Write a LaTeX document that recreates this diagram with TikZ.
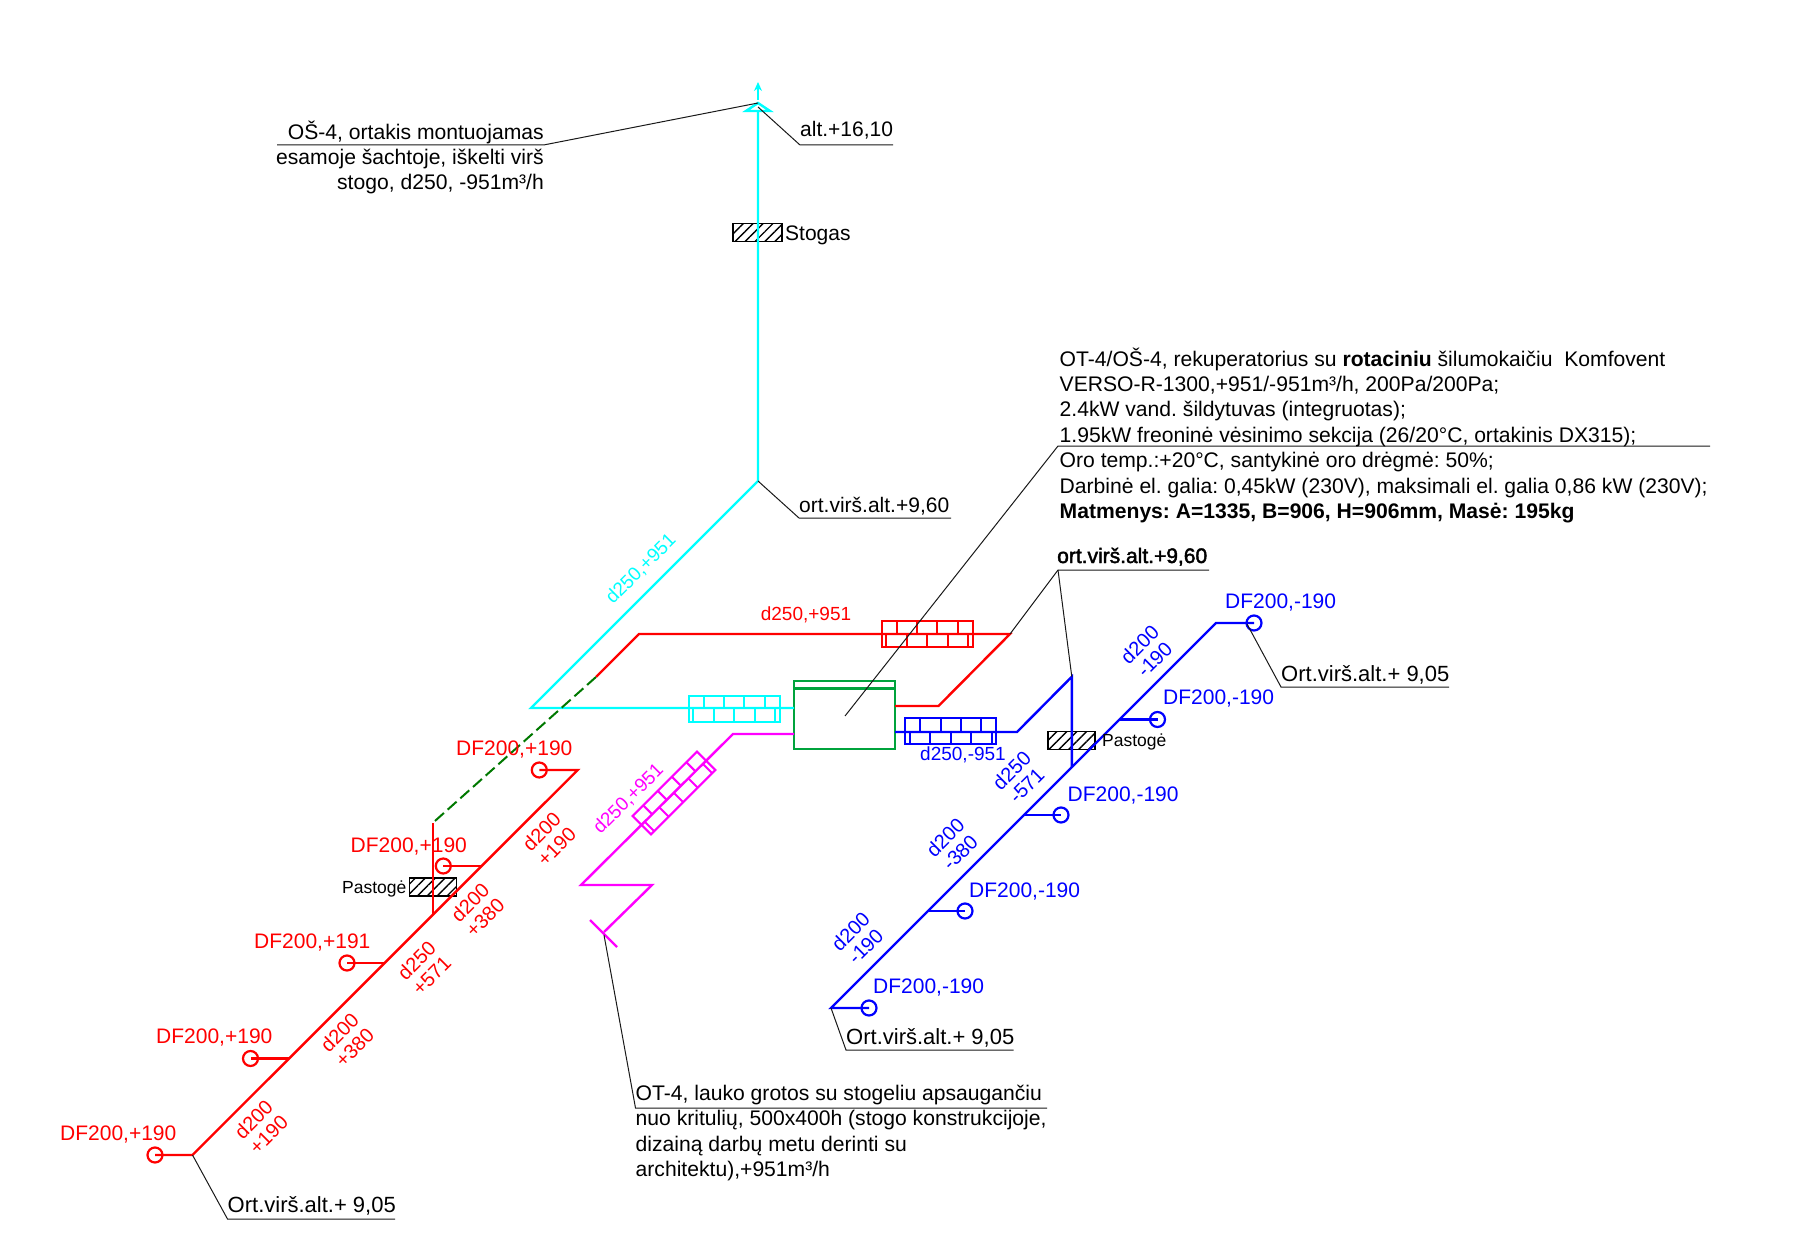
\documentclass[tikz,border=0pt]{standalone}
\usepackage{fontspec}
\setmainfont{Liberation Sans}
\newfontfamily\fakebold[FakeBold=2]{Liberation Sans}
\usetikzlibrary{patterns.meta, arrows.meta}

\definecolor{boxgreen}{RGB}{0,163,60}
\definecolor{dashgreen}{RGB}{0,120,0}
\definecolor{ductcyan}{RGB}{0,255,255}
\definecolor{ductmagenta}{RGB}{255,0,255}

\tikzset{
  duct/.style={line width=2.4pt, line join=miter},
  leader/.style={black!90, line width=1pt},
  port/.style={draw, shape=circle, line width=2.2pt, minimum size=15pt, inner sep=0pt},
  hatchbox/.style={draw=black, line width=1.7pt, minimum width=47pt, minimum height=18pt, inner sep=0pt,
    pattern={Lines[angle=45, distance=7pt, line width=1.4pt]}},
  txt/.style={font=\fontsize{21}{25.4}\selectfont, inner sep=0pt, anchor=base west},
  levtxt/.style={font=\fontsize{22}{25.4}\selectfont, inner sep=0pt, anchor=base west},
  small/.style={font=\fontsize{19}{22}\selectfont, inner sep=0pt},
  turned/.style={font=\fontsize{20}{21}\selectfont, inner sep=0pt, align=center, rotate=45},
  para/.style={font=\fontsize{21.12}{25.4}\selectfont, inner sep=0pt, align=left, anchor=north west},
  brick/.pic={
    \draw[line width=2pt, pic actions] (-45.5,-13) rectangle (45.5,13);
    \draw[line width=2pt, pic actions] (-30.5,-13) -- (-30.5,0) (-10,-13) -- (-10,0) (10,-13) -- (10,0) (30.5,-13) -- (30.5,0);
    \draw[line width=2pt, pic actions] (-41,0) -- (-41,13) (-20.5,0) -- (-20.5,13) (0,0) -- (0,13) (20.5,0) -- (20.5,13) (41,0) -- (41,13);
  }
}

\begin{document}
\frenchspacing
\begin{tikzpicture}[x=1pt, y=-1pt]
  \useasboundingbox (0,0) rectangle (1802,1244);

  % unit
  \node[draw=boxgreen, line width=2.4pt, minimum width=101pt, minimum height=68pt, inner sep=0pt] (unit) at (844.5,715) {};
  \draw[draw=boxgreen, line width=2.4pt] ([yshift=-8.5pt] unit.north west) -- ([yshift=-8.5pt] unit.north east);

  % roof openings
  \node[hatchbox, minimum width=49pt] (stogas) at (757.5,232.5) {};
  \node[hatchbox] (bluecut) at (1071.5,740.5) {};
  \node[hatchbox] (redcut) at (433,887) {};

  % extract stack
  \coordinate (captop) at (758,103);
  \coordinate (capleft) at (746,111);
  \coordinate (capright) at (770,111);
  \coordinate (capbase) at (758,111);
  \coordinate (tipfoot) at (758,100);
  \coordinate (tip) at (758,82);
  \coordinate (cyanbend) at (758,481);
  \coordinate (cyancorner) at (531,708);
  \coordinate (cyanend) at (794,708);
  \draw[duct, ductcyan] (capbase) -- (cyanbend) -- (cyancorner) -- (cyanend);
  \draw[ductcyan, line width=2.4pt] (captop) -- (capleft) -- (capright) -- cycle;
  \draw[ductcyan, line width=2.4pt, -{Stealth[length=9pt, width=8pt]}] (tipfoot) -- (tip);
  \pic[draw=ductcyan] at (734,708.5) {brick};

  % supply
  \coordinate (redout) at (895,706);
  \coordinate (redkink) at (938.5,706);
  \coordinate (redright) at (1010,634);
  \coordinate (redleft) at (639,634);
  \coordinate (reddrop) at (596,677);
  \coordinate (dashend) at (432.7,823);
  \coordinate (redfoot) at (432.7,915);
  \draw[duct, red] (redout) -- (redkink) -- (redright) -- (redleft) -- (reddrop);
  \draw[dashgreen, line width=2pt, dash pattern=on 12pt off 5pt] (reddrop) -- (dashend);
  \draw[duct, red] (dashend) -- (redfoot);
  \pic[draw=red] at (927,634) {brick};

  \coordinate (redtop) at (577.7,770);
  \coordinate (redstart) at (192.5,1155);
  \coordinate (redjb) at (481.7,866);
  \coordinate (redjc) at (384.7,963);
  \coordinate (redjd) at (289.2,1058.5);
  \node[port, red] (porta) at (539.3,770) {};
  \node[port, red] (portb) at (443.3,866) {};
  \node[port, red] (portc) at (347,963) {};
  \node[port, red] (portd) at (250.5,1058.5) {};
  \node[port, red] (porte) at (155,1155) {};
  \draw[duct, red] (porta.center) -- (redtop) -- (redstart) -- (porte.center);
  \draw[duct, red] (redjb) -- (portb.center);
  \draw[duct, red] (redjc) -- (portc.center);
  \draw[duct, red] (redjd) -- (portd.center);

  % extract
  \coordinate (blueout) at (895,732);
  \coordinate (bluekink) at (1017,732);
  \coordinate (bluehigh) at (1071.8,676.7);
  \coordinate (bluefoot) at (1071.8,767);
  \draw[duct, blue] (blueout) -- (bluekink) -- (bluehigh) -- (bluefoot);
  \pic[draw=blue] at (950.5,731) {brick};

  \coordinate (bluetop) at (1216,623);
  \coordinate (bluestart) at (831,1008);
  \coordinate (bluejb) at (1119.5,719.5);
  \coordinate (bluejc) at (1024,815);
  \coordinate (bluejd) at (928,911);
  \node[port, blue] (portf) at (1254,623) {};
  \node[port, blue] (portg) at (1157.5,719.5) {};
  \node[port, blue] (porth) at (1061,815) {};
  \node[port, blue] (porti) at (965,911) {};
  \node[port, blue] (portj) at (869,1008) {};
  \draw[duct, blue] (portf.center) -- (bluetop) -- (bluestart) -- (portj.center);
  \draw[duct, blue] (bluejb) -- (portg.center);
  \draw[duct, blue] (bluejc) -- (porth.center);
  \draw[duct, blue] (bluejd) -- (porti.center);

  % intake
  \coordinate (magin) at (794,734);
  \coordinate (magkink) at (733,734);
  \coordinate (magleft) at (581,885);
  \coordinate (magright) at (652,885);
  \coordinate (magend) at (604,932);
  \coordinate (grillea) at (590,920);
  \coordinate (grilleb) at (617,947);
  \draw[duct, ductmagenta] (magin) -- (magkink) -- (magleft) -- (magright) -- (magend);
  \draw[duct, ductmagenta] (grillea) -- (grilleb);
  \pic[draw=ductmagenta, rotate=45] at (674,793) {brick};

  % leaders
  \coordinate (osshelf) at (277,145);
  \coordinate (osknee) at (543.6,145);
  \coordinate (altstart) at (758,107);
  \coordinate (altknee) at (800,145);
  \coordinate (altend) at (893,145);
  \coordinate (viraknee) at (799,518);
  \coordinate (viraend) at (951,518);
  \coordinate (otknee) at (1058,446);
  \coordinate (otend) at (1710,446);
  \coordinate (otbox) at (845,716);
  \coordinate (boldknee) at (1058,570);
  \coordinate (boldend) at (1209,570);
  \coordinate (bluelead) at (1247,624);
  \coordinate (blueknee) at (1281,687);
  \coordinate (blueend) at (1449,687);
  \coordinate (lowknee) at (846,1050);
  \coordinate (lowend) at (1013.5,1050);
  \coordinate (redknee) at (227.5,1219);
  \coordinate (redend) at (395,1219);
  \coordinate (gratestart) at (604,935);
  \coordinate (grateknee) at (635.5,1108);
  \coordinate (grateend) at (1047,1108);
  \draw[leader] (osshelf) -- (osknee) -- (captop);
  \draw[leader] (altstart) -- (altknee) -- (altend);
  \draw[leader] (cyanbend) -- (viraknee) -- (viraend);
  \draw[leader] (otbox) -- (otknee) -- (otend);
  \draw[leader] (redright) -- (boldknee) -- (boldend);
  \draw[leader] (boldknee) -- (bluehigh);
  \draw[leader] (bluelead) -- (blueknee) -- (blueend);
  \draw[leader] (bluestart) -- (lowknee) -- (lowend);
  \draw[leader] (redstart) -- (redknee) -- (redend);
  \draw[leader] (gratestart) -- (grateknee) -- (grateend);

  % black texts
  \node[para, align=right, anchor=north east] (ostext) at (544,120.5) {OŠ-4, ortakis montuojamas\\esamoje šachtoje, iškelti virš\\stogo, d250, -951m³/h};
  \node[txt] (alttext) at (800,137) {alt.+16,10};
  \node[txt] (stogastext) at (785,240) {Stogas};
  \node[txt] (viratext) at (799,512) {ort.virš.alt.+9,60};
  \node[para] (ottext) at (1059.5,347.5) {OT-4/OŠ-4, rekuperatorius su \textbf{rotaciniu} šilumokaičiu\ \ Komfovent\\VERSO-R-1300,+951/-951m³/h, 200Pa/200Pa;\\2.4kW vand. šildytuvas (integruotas);\\1.95kW freoninė vėsinimo sekcija (26/20°C, ortakinis DX315);\\Oro temp.:+20°C, santykinė oro drėgmė: 50\%;\\Darbinė el. galia: 0,45kW (230V), maksimali el. galia 0,86 kW (230V);\\\textbf{Matmenys: A=1335, B=906, H=906mm, Masė: 195kg}};
  \node[txt, font=\fontsize{21}{24}\fakebold] (boldtext) at (1057,563) {ort.virš.alt.+9,60};
  \node[levtxt] (bluetext) at (1281,681) {Ort.virš.alt.+ 9,05};
  \node[levtxt] (lowtext) at (846,1044) {Ort.virš.alt.+ 9,05};
  \node[levtxt] (redtext) at (227.5,1212) {Ort.virš.alt.+ 9,05};
  \node[para] (gratetext) at (635.5,1085) {OT-4, lauko grotos su stogeliu apsaugančiu\\nuo kritulių, 500x400h (stogo konstrukcijoje,\\dizainą darbų metu derinti su\\architektu),+951m³/h};
  \node[txt, font=\fontsize{17.5}{20}\selectfont] (pastogea) at (1102,746) {Pastogė};
  \node[txt, font=\fontsize{17.5}{20}\selectfont] (pastogeb) at (342,893) {Pastogė};

  % red labels
  \node[txt, red] (dfa) at (456,755) {DF200,+190};
  \node[txt, red] (dfb) at (350.5,852) {DF200,+190};
  \node[txt, red] (dfc) at (254,948) {DF200,+191};
  \node[txt, red] (dfd) at (156,1043.5) {DF200,+190};
  \node[txt, red] (dfe) at (60,1140) {DF200,+190};
  \node[small, red] (reddia) at (806,615) {d250,+951};
  \node[turned, red] (turna) at (549,839) {d200\\+190};
  \node[turned, red] (turnb) at (477.5,910) {d200\\+380};
  \node[turned, red] (turnc) at (424,968) {d250\\+571};
  \node[turned, red] (turnd) at (347,1040) {d200\\+380};
  \node[turned, red] (turne) at (261,1127) {d200\\+190};

  % blue labels
  \node[txt, blue] (dff) at (1225,608) {DF200,-190};
  \node[txt, blue] (dfg) at (1163,704.5) {DF200,-190};
  \node[txt, blue] (dfh) at (1067.5,801) {DF200,-190};
  \node[txt, blue] (dfi) at (969,897.5) {DF200,-190};
  \node[txt, blue] (dfj) at (873,993) {DF200,-190};
  \node[small, blue] (bluedia) at (963,755) {d250,-951};
  \node[turned, blue] (turnf) at (1147,652) {d200\\-190};
  \node[turned, blue] (turng) at (1019,778) {d250\\-571};
  \node[turned, blue] (turnh) at (952.6,845) {d200\\-380};
  \node[turned, blue] (turni) at (858,939) {d200\\-190};

  % duct sizes on the slants
  \node[turned, ductcyan, font=\fontsize{19}{22}\selectfont] (cyandia) at (641,569) {d250,+951};
  \node[turned, ductmagenta, font=\fontsize{19}{22}\selectfont] (magdia) at (628.5,799) {d250,+951};

\end{tikzpicture}
\end{document}
